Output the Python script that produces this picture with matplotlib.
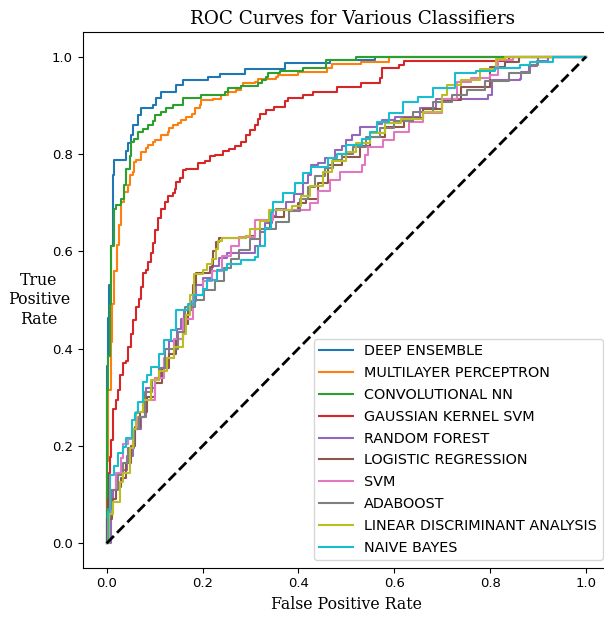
import numpy as np
import matplotlib
matplotlib.use("Agg")
import matplotlib.pyplot as plt

# curve data: x = where the step rises, y = level after the rise
names = ["DEEP ENSEMBLE", "MULTILAYER PERCEPTRON", "CONVOLUTIONAL NN",
         "GAUSSIAN KERNEL SVM", "RANDOM FOREST", "LOGISTIC REGRESSION",
         "SVM", "ADABOOST", "LINEAR DISCRIMINANT ANALYSIS", "NAIVE BAYES"]

fpr_deep = [0, 0, 0.002, 0.004, 0.008, 0.013, 0.016, 0.041, 0.044, 0.050, 0.055, 0.065, 0.072,
            0.097, 0.103, 0.114, 0.145, 0.159, 0.211, 0.236, 0.288, 0.371, 0.465, 0.56, 1.0]
tpr_deep = [0, 0.365, 0.463, 0.53, 0.61, 0.757, 0.788, 0.806, 0.822, 0.84, 0.86, 0.88, 0.894,
            0.901, 0.915, 0.928, 0.942, 0.952, 0.959, 0.965, 0.974, 0.988, 0.993, 1.0, 1.0]

fpr_mlp = [0, 0, 0.003, 0.008, 0.012, 0.016, 0.022, 0.026, 0.030, 0.037, 0.044, 0.048, 0.055,
           0.058, 0.061, 0.072, 0.082, 0.086, 0.097, 0.100, 0.114, 0.128, 0.131, 0.138, 0.149,
           0.156, 0.166, 0.177, 0.184, 0.194, 0.197, 0.222, 0.239, 0.253, 0.270, 0.281, 0.284,
           0.309, 0.316, 0.354, 0.358, 0.400, 0.460, 0.470, 0.530, 0.588, 1.0]
tpr_mlp = [0, 0.17, 0.316, 0.414, 0.492, 0.56, 0.613, 0.654, 0.702, 0.722, 0.736, 0.757, 0.764,
           0.784, 0.788, 0.805, 0.812, 0.818, 0.825, 0.829, 0.839, 0.846, 0.853, 0.86, 0.863,
           0.87, 0.876, 0.883, 0.894, 0.901, 0.912, 0.914, 0.921, 0.928, 0.932, 0.939, 0.946,
           0.948, 0.955, 0.958, 0.962, 0.969, 0.976, 0.985, 0.990, 1.0, 1.0]

fpr_cnn = [0, 0, 0.003, 0.006, 0.010, 0.016, 0.020, 0.030, 0.036, 0.041, 0.048, 0.051, 0.058,
           0.065, 0.076, 0.086, 0.097, 0.100, 0.114, 0.124, 0.138, 0.159, 0.197, 0.246, 0.253,
           0.281, 0.316, 0.323, 0.333, 0.337, 0.361, 0.410, 0.458, 0.52, 1.0]
tpr_cnn = [0, 0.316, 0.384, 0.492, 0.61, 0.688, 0.695, 0.708, 0.737, 0.77, 0.796, 0.825, 0.831,
           0.845, 0.852, 0.86, 0.867, 0.88, 0.887, 0.894, 0.901, 0.915, 0.921, 0.928, 0.935,
           0.939, 0.945, 0.952, 0.959, 0.966, 0.97, 0.976, 0.993, 1.0, 1.0]

fpr_gk = [0, 0, 0.003, 0.004, 0.006, 0.0095, 0.013, 0.020, 0.023, 0.028, 0.034, 0.040, 0.044,
          0.050, 0.055, 0.062, 0.067, 0.072, 0.076, 0.082, 0.086, 0.093, 0.097, 0.100, 0.107,
          0.114, 0.121, 0.128, 0.138, 0.142, 0.145, 0.152, 0.159, 0.166, 0.191, 0.205, 0.215,
          0.225, 0.243, 0.256, 0.267, 0.281, 0.291, 0.298, 0.309, 0.316, 0.319, 0.333, 0.350,
          0.371, 0.378, 0.41, 0.43, 0.48, 0.53, 0.57, 0.575, 0.61, 0.62, 0.84, 1.0]
tpr_gk = [0, 0.05, 0.09, 0.144, 0.178, 0.212, 0.275, 0.295, 0.316, 0.345, 0.37, 0.375, 0.404,
          0.431, 0.459, 0.486, 0.502, 0.527, 0.555, 0.561, 0.578, 0.596, 0.617, 0.644, 0.668,
          0.688, 0.702, 0.713, 0.72, 0.729, 0.743, 0.75, 0.767, 0.77, 0.781, 0.786, 0.796,
          0.799, 0.806, 0.81, 0.817, 0.825, 0.839, 0.849, 0.86, 0.873, 0.883, 0.89, 0.897,
          0.908, 0.915, 0.921, 0.928, 0.937, 0.947, 0.957, 0.977, 0.984, 0.991, 1.0, 1.0]

fpr_rf = [0, 0.0095, 0.013, 0.02, 0.03, 0.042, 0.055, 0.06, 0.072, 0.082, 0.1, 0.114, 0.125,
          0.13, 0.146, 0.155, 0.162, 0.178, 0.186, 0.2, 0.219, 0.235, 0.251, 0.309, 0.319, 0.33,
          0.345, 0.354, 0.375, 0.39, 0.41, 0.42, 0.427, 0.441, 0.455, 0.476, 0.49, 0.5, 0.511,
          0.528, 0.563, 0.575, 0.601, 0.653, 0.688, 0.796, 0.803, 0.862, 0.865, 0.88, 0.897,
          0.92, 1.0]
tpr_rf = [0, 0.07, 0.11, 0.14, 0.15, 0.18, 0.21, 0.235, 0.26, 0.32, 0.34, 0.36, 0.38, 0.416,
          0.44, 0.46, 0.48, 0.497, 0.53, 0.545, 0.57, 0.586, 0.596, 0.61, 0.64, 0.659, 0.673,
          0.688, 0.702, 0.718, 0.74, 0.757, 0.777, 0.781, 0.791, 0.808, 0.817, 0.829, 0.839,
          0.856, 0.862, 0.869, 0.877, 0.895, 0.914, 0.921, 0.952, 0.955, 0.968, 0.98, 0.991,
          1.0, 1.0]

fpr_lr = [0, 0.004, 0.012, 0.02, 0.03, 0.04, 0.05, 0.06, 0.07, 0.085, 0.1, 0.115, 0.13, 0.145,
          0.16, 0.17, 0.18, 0.187, 0.215, 0.222, 0.228, 0.235, 0.29, 0.31, 0.34, 0.37, 0.4,
          0.416, 0.44, 0.462, 0.49, 0.528, 0.55, 0.58, 0.62, 0.66, 0.7, 0.74, 0.799, 0.83, 0.86, 1.0]
tpr_lr = [0, 0.05, 0.09, 0.115, 0.135, 0.165, 0.2, 0.24, 0.27, 0.3, 0.33, 0.36, 0.39, 0.42,
          0.45, 0.49, 0.53, 0.555, 0.568, 0.6, 0.62, 0.628, 0.632, 0.645, 0.67, 0.685, 0.70,
          0.708, 0.74, 0.777, 0.793, 0.817, 0.836, 0.855, 0.874, 0.893, 0.912, 0.937, 0.978,
          0.99, 1.0, 1.0]

fpr_svm = [0, 0.003, 0.01, 0.02, 0.03, 0.034, 0.045, 0.055, 0.065, 0.08, 0.1, 0.12, 0.14, 0.16,
           0.18, 0.2, 0.22, 0.24, 0.26, 0.277, 0.309, 0.347, 0.424, 0.441, 0.466, 0.486, 0.532,
           0.538, 0.546, 0.577, 0.6, 0.63, 0.66, 0.7, 0.73, 0.76, 0.8, 0.817, 0.848, 1.0]
tpr_svm = [0, 0.06, 0.11, 0.145, 0.175, 0.205, 0.215, 0.235, 0.26, 0.295, 0.34, 0.38, 0.42,
           0.46, 0.51, 0.54, 0.56, 0.59, 0.61, 0.63, 0.665, 0.685, 0.699, 0.725, 0.747, 0.763,
           0.777, 0.798, 0.815, 0.829, 0.845, 0.865, 0.884, 0.913, 0.948, 0.957, 0.962, 0.994,
           1.0, 1.0]

fpr_ada = [0, 0.003, 0.01, 0.023, 0.035, 0.045, 0.058, 0.068, 0.079, 0.095, 0.11, 0.121, 0.149,
           0.163, 0.185, 0.204, 0.225, 0.245, 0.26, 0.277, 0.3, 0.319, 0.354, 0.38, 0.403, 0.42,
           0.434, 0.455, 0.472, 0.49, 0.514, 0.54, 0.57, 0.6, 0.64, 0.68, 0.72, 0.751, 0.79,
           0.84, 0.883, 0.9, 1.0]
tpr_ada = [0, 0.07, 0.11, 0.14, 0.165, 0.195, 0.235, 0.26, 0.31, 0.335, 0.36, 0.4, 0.435,
           0.485, 0.5, 0.52, 0.54, 0.565, 0.585, 0.603, 0.625, 0.645, 0.66, 0.683, 0.708, 0.732,
           0.754, 0.771, 0.788, 0.8, 0.815, 0.834, 0.853, 0.868, 0.887, 0.907, 0.922, 0.932,
           0.951, 0.966, 0.984, 1.0, 1.0]

fpr_lda = [0, 0.005, 0.013, 0.027, 0.035, 0.048, 0.055, 0.061, 0.075, 0.093, 0.11, 0.125,
           0.14, 0.159, 0.165, 0.173, 0.183, 0.2, 0.21, 0.22, 0.228, 0.232, 0.24, 0.291, 0.3,
           0.32, 0.339, 0.387, 0.405, 0.424, 0.452, 0.47, 0.5, 0.521, 0.55, 0.58, 0.613, 0.66,
           0.7, 0.709, 0.74, 0.779, 0.813, 0.83, 1.0]
tpr_lda = [0, 0.06, 0.085, 0.125, 0.145, 0.195, 0.235, 0.27, 0.295, 0.335, 0.355, 0.38, 0.403,
           0.43, 0.47, 0.51, 0.553, 0.561, 0.574, 0.585, 0.605, 0.622, 0.628, 0.632, 0.645,
           0.662, 0.685, 0.693, 0.714, 0.735, 0.763, 0.785, 0.805, 0.822, 0.844, 0.864, 0.871,
           0.887, 0.922, 0.941, 0.952, 0.975, 0.995, 1.0, 1.0]

fpr_nb = [0, 0.0026, 0.006, 0.016, 0.023, 0.034, 0.04, 0.052, 0.06, 0.065, 0.075, 0.085, 0.093,
          0.11, 0.12, 0.135, 0.145, 0.17, 0.183, 0.2, 0.21, 0.23, 0.25, 0.28, 0.309, 0.316,
          0.33, 0.343, 0.347, 0.368, 0.392, 0.41, 0.427, 0.461, 0.48, 0.5, 0.532, 0.55, 0.563,
          0.59, 0.618, 0.65, 0.681, 0.726, 0.77, 0.81, 0.862, 0.883, 0.931, 1.0]
tpr_nb = [0, 0.065, 0.14, 0.158, 0.185, 0.198, 0.217, 0.253, 0.267, 0.291, 0.332, 0.345, 0.363,
          0.39, 0.418, 0.438, 0.479, 0.492, 0.51, 0.522, 0.541, 0.561, 0.575, 0.582, 0.589,
          0.612, 0.649, 0.681, 0.702, 0.72, 0.74, 0.76, 0.774, 0.791, 0.8, 0.818, 0.83, 0.845,
          0.866, 0.884, 0.907, 0.918, 0.935, 0.966, 0.971, 0.977, 0.982, 0.99, 1.0, 1.0]

fprs = [fpr_deep, fpr_mlp, fpr_cnn, fpr_gk, fpr_rf, fpr_lr, fpr_svm, fpr_ada, fpr_lda, fpr_nb]
tprs = [tpr_deep, tpr_mlp, tpr_cnn, tpr_gk, tpr_rf, tpr_lr, tpr_svm, tpr_ada, tpr_lda, tpr_nb]

ticks = [0.0, 0.2, 0.4, 0.6, 0.8, 1.0]

fig = plt.figure(figsize=(6.04, 6.17), dpi=100)
# right spine sits just past the picture edge, as in the reference
ax = fig.add_axes([82.7/604, 1 - 567.6/617, 527.3/604, 535.2/617])

for f, t, n in zip(fprs, tprs, names):
    ax.plot(f, t, drawstyle="steps-post", lw=1.5, label=n)
ax.plot([0, 1], [0, 1], "k--", lw=2)

ax.set_xlim(-0.05, 1.05)
ax.set_ylim(-0.05, 1.05)
ax.set_xticks(ticks)
ax.set_yticks(ticks)
ax.tick_params(labelsize=9.5)

serif = "DejaVu Serif"
ax.set_title("ROC Curves for Various Classifiers", family=serif, fontsize=13.2, pad=6, x=0.511)
ax.set_xlabel("False Positive Rate", family=serif, fontsize=11.3, labelpad=4)
ax.set_ylabel("True\nPositive\nRate", family=serif, fontsize=11.3, rotation=0,
              ha="center", va="center")
ax.yaxis.set_label_coords(-0.083, 0.5)

ax.legend(loc="lower right", fontsize=10.4, handlelength=2.3, labelspacing=0.54)

fig.savefig("out.png", dpi=100)
